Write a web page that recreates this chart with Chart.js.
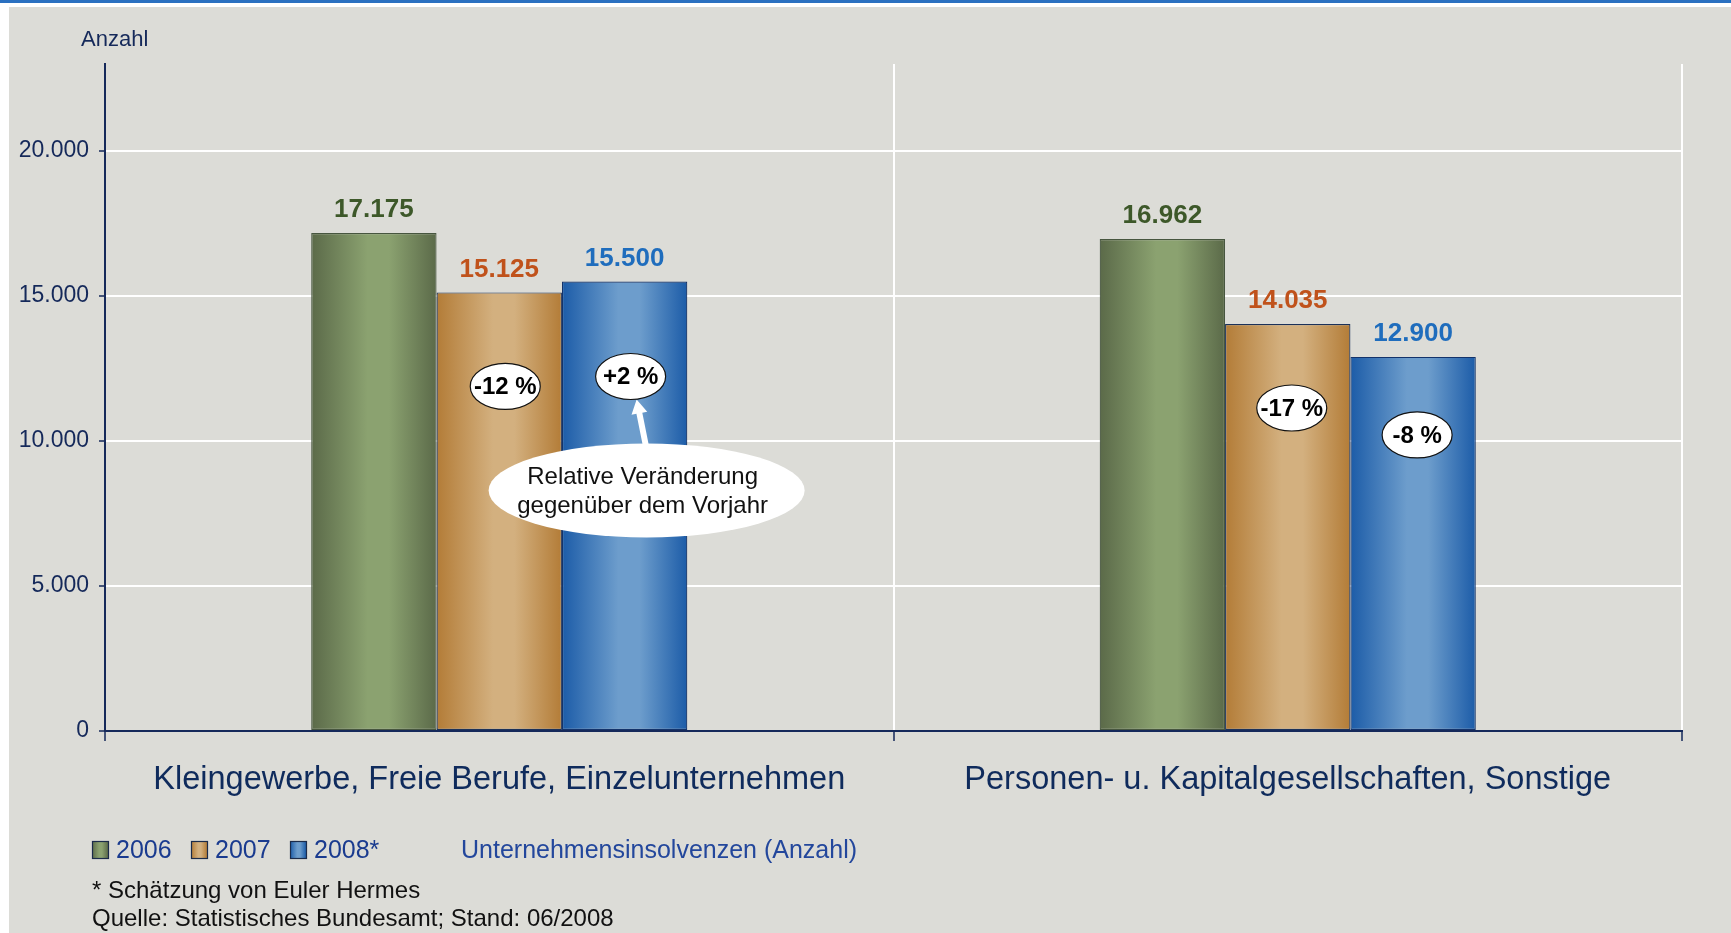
<!DOCTYPE html>
<html lang="de">
<head>
<meta charset="utf-8">
<title>Unternehmensinsolvenzen (Anzahl)</title>
<script src="https://cdn.jsdelivr.net/npm/chart.js@4.4.1/dist/chart.umd.min.js"></script>
<style>
  html, body { margin: 0; padding: 0; background: #fff; }
  #wrap { position: relative; width: 1731px; height: 933px; }
</style>
</head>
<body>
<div id="wrap"><canvas id="chart"></canvas></div>
<script>
// Daten
const categories = ['Kleingewerbe, Freie Berufe, Einzelunternehmen', 'Personen- u. Kapitalgesellschaften, Sonstige'];
const years = ['2006', '2007', '2008*'];
const values2006 = [17175, 16962];
const values2007 = [15125, 14035];
const values2008 = [15500, 12900];
const change2007 = ['-12 %', '-17 %'];
const change2008 = ['+2 %', '-8 %'];
const yTickValues = [0, 5000, 10000, 15000, 20000];
const yMax = 23000;

const FONT = "'Liberation Sans', Arial, sans-serif";
const NAVY = '#15295a';

// Farben je Jahr
const styles = [
    { dark: '#5b6a49', light: '#8ba270', border: '#47563f', label: '#3d5829' },
    { dark: '#b37c37', light: '#d3b07f', border: '#1b3159', label: '#c0521b' },
    { dark: '#1c5ca8', light: '#6d9dcc', border: '#13336b', label: '#1f6dbd' }
];

// Lage der Prozent-Ellipsen relativ zur Balkenoberkante
const changeSpots2007 = [{ dx: 6, dy: 94 }, { dx: 4, dy: 84 }];
const changeSpots2008 = [{ dx: 6, dy: 95 }, { dx: 4, dy: 78 }];
const callout = { dx: 22, dy: 209, rx: 158, ry: 47, baseDx: 21, baseDy: 163, tipDx: 12, tipDy: 118 };

function fmt(v) {
    return String(v).replace(/\B(?=(\d{3})+(?!\d))/g, '.');
}

function barGradient(ctx, left, width, s) {
    const g = ctx.createLinearGradient(left, 0, left + width, 0);
    g.addColorStop(0, s.dark);
    g.addColorStop(0.45, s.light);
    g.addColorStop(0.62, s.light);
    g.addColorStop(1, s.dark);
    return g;
}

function ellipse(ctx, x, y, rx, ry, fill, stroke) {
    ctx.beginPath();
    ctx.ellipse(x, y, rx, ry, 0, 0, Math.PI * 2);
    ctx.fillStyle = fill;
    ctx.fill();
    if (stroke) {
        ctx.lineWidth = 1.2;
        ctx.strokeStyle = stroke;
        ctx.stroke();
    }
}

// Hintergrund
const backgroundPlugin = {
    id: 'background',
    beforeDraw(chart) {
        const ctx = chart.ctx;
        ctx.save();
        ctx.fillStyle = '#ffffff';
        ctx.fillRect(0, 0, chart.width, chart.height);
        ctx.fillStyle = '#dcdcd7';
        ctx.fillRect(9, 7, chart.width - 9, chart.height - 7);
        ctx.fillStyle = '#2a70c0';
        ctx.fillRect(0, 0, chart.width, 3);
        ctx.restore();
    }
};

// Verlauf in den Balken
const gradientPlugin = {
    id: 'barGradient',
    beforeDatasetsDraw(chart) {
        chart.data.datasets.forEach((ds, i) => {
            chart.getDatasetMeta(i).data.forEach(el => {
                const left = el.x - el.width / 2;
                el.options = Object.assign({}, el.options, {
                    backgroundColor: barGradient(chart.ctx, left, el.width, styles[i])
                });
            });
        });
    }
};

// Werte, Prozentangaben, Hinweis
const labelPlugin = {
    id: 'labels',
    afterDatasetsDraw(chart) {
        const ctx = chart.ctx;
        ctx.save();
        ctx.textAlign = 'center';
        ctx.textBaseline = 'middle';

        chart.data.datasets.forEach((ds, i) => {
            chart.getDatasetMeta(i).data.forEach((el, j) => {
                ctx.font = 'bold 26px ' + FONT;
                ctx.fillStyle = styles[i].label;
                ctx.fillText(fmt(ds.data[j]), el.x, el.y - 23);
            });
        });

        const meta2007 = chart.getDatasetMeta(1).data;
        const meta2008 = chart.getDatasetMeta(2).data;

        // Hinweisblase mit Pfeil
        const ref = meta2008[0];
        const cx = ref.x + callout.dx, cy = ref.y + callout.dy;
        const bx = ref.x + callout.baseDx, by = ref.y + callout.baseDy;
        const tx = ref.x + callout.tipDx, ty = ref.y + callout.tipDy;
        const ang = Math.atan2(ty - by, tx - bx);
        const px = Math.cos(ang + Math.PI / 2), py = Math.sin(ang + Math.PI / 2);
        const hx = tx - Math.cos(ang) * 14, hy = ty - Math.sin(ang) * 14;
        ctx.fillStyle = '#ffffff';
        ctx.beginPath();
        ctx.moveTo(bx + px * 3, by + py * 3);
        ctx.lineTo(hx + px * 3, hy + py * 3);
        ctx.lineTo(hx + px * 8, hy + py * 8);
        ctx.lineTo(tx, ty);
        ctx.lineTo(hx - px * 8, hy - py * 8);
        ctx.lineTo(hx - px * 3, hy - py * 3);
        ctx.lineTo(bx - px * 3, by - py * 3);
        ctx.closePath();
        ctx.fill();
        ellipse(ctx, cx, cy, callout.rx, callout.ry, '#ffffff', null);
        ctx.font = '24px ' + FONT;
        ctx.fillStyle = '#111111';
        ctx.fillText('Relative Veränderung', cx - 4, cy - 13);
        ctx.fillText('gegenüber dem Vorjahr', cx - 4, cy + 16);

        // Prozent-Ellipsen
        ctx.font = 'bold 24px ' + FONT;
        const drawChange = (el, text, spot) => {
            const x = el.x + spot.dx, y = el.y + spot.dy;
            ellipse(ctx, x, y, 35, 23, '#ffffff', '#111111');
            ctx.fillStyle = '#000000';
            ctx.fillText(text, x, y + 1);
        };
        meta2007.forEach((el, j) => drawChange(el, change2007[j], changeSpots2007[j]));
        meta2008.forEach((el, j) => drawChange(el, change2008[j], changeSpots2008[j]));
        ctx.restore();
    }
};

// Achsentitel, Legende, Fußnoten
const textPlugin = {
    id: 'texts',
    afterDraw(chart) {
        const ctx = chart.ctx;
        ctx.save();
        ctx.textBaseline = 'middle';
        ctx.textAlign = 'left';
        ctx.font = '22px ' + FONT;
        ctx.fillStyle = NAVY;
        ctx.fillText('Anzahl', 81, 40);

        const legendX = [92, 191, 290];
        ctx.font = '25px ' + FONT;
        years.forEach((y, i) => {
            const x = legendX[i];
            ctx.fillStyle = barGradient(ctx, x, 16, styles[i]);
            ctx.fillRect(x, 841, 16, 17);
            ctx.lineWidth = 1.2;
            ctx.strokeStyle = '#1b2b4a';
            ctx.strokeRect(x + 0.5, 841.5, 16, 17);
            ctx.fillStyle = '#1a3b8f';
            ctx.fillText(y, x + 24, 851);
        });
        ctx.fillStyle = '#23479c';
        ctx.fillText('Unternehmensinsolvenzen (Anzahl)', 461, 851);

        ctx.font = '24px ' + FONT;
        ctx.fillStyle = '#111111';
        ctx.fillText('* Schätzung von Euler Hermes', 92, 891);
        ctx.fillText('Quelle: Statistisches Bundesamt; Stand: 06/2008', 92, 919);
        ctx.restore();
    }
};

const chart = new Chart(document.getElementById('chart'), {
    type: 'bar',
    data: {
        labels: categories,
        datasets: [
            { label: years[0], data: values2006, borderColor: styles[0].border, backgroundColor: styles[0].light },
            { label: years[1], data: values2007, borderColor: styles[1].border, backgroundColor: styles[1].light },
            { label: years[2], data: values2008, borderColor: styles[2].border, backgroundColor: styles[2].light }
        ]
    },
    options: {
        responsive: true,
        maintainAspectRatio: false,
        animation: false,
        layout: { padding: { top: 64, right: 49, left: 0, bottom: 0 } },
        datasets: {
            bar: { categoryPercentage: 0.477, barPercentage: 1.0, borderWidth: 1.2, borderSkipped: false }
        },
        plugins: {
            legend: { display: false },
            tooltip: { enabled: false }
        },
        scales: {
            x: {
                afterFit(scale) { scale.height = 202; },
                grid: { color: '#ffffff', lineWidth: 2, tickColor: NAVY, tickLength: 10, tickWidth: 1.5 },
                border: { color: NAVY, width: 2 },
                ticks: { color: '#0f2b5c', font: { family: FONT, size: 32.5 }, padding: 20 }
            },
            y: {
                min: 0,
                max: yMax,
                afterFit(scale) { scale.width = 105; },
                afterBuildTicks(scale) {
                    scale.ticks = yTickValues.map(v => ({ value: v }));
                },
                grid: { color: '#ffffff', lineWidth: 2, tickColor: NAVY, tickLength: 6, tickWidth: 1.5 },
                border: { color: NAVY, width: 2 },
                ticks: {
                    color: NAVY,
                    font: { family: FONT, size: 23 },
                    padding: 10,
                    callback: v => fmt(v)
                }
            }
        }
    },
    plugins: [backgroundPlugin, gradientPlugin, labelPlugin, textPlugin]
});
</script>
</body>
</html>
